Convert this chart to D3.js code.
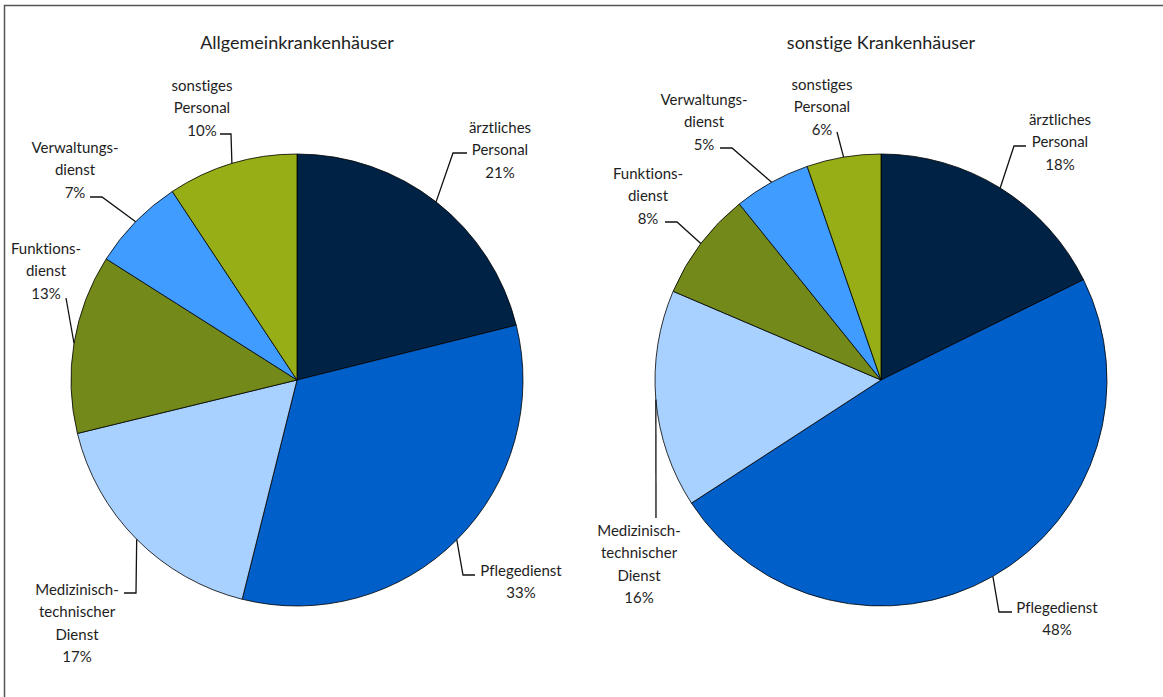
<!DOCTYPE html>
<html>
<head>
<meta charset="utf-8">
<script src="https://cdn.jsdelivr.net/npm/d3@7"></script>
<style>
  body { margin: 0; background: #fff; }
  svg text { font-family: Lato, "Open Sans", sans-serif; fill: #1e1e1e; font-variant-ligatures: none; font-feature-settings: "liga" 0; }
  .label { font-size: 15px; }
  .title { font-size: 18px; }
</style>
</head>
<body>
<svg id="chart" width="1163" height="697"></svg>
<script>
// ----------

const CATEGORIES = [
  ["ärztliches", "Personal"],
  ["Pflegedienst"],
  ["Medizinisch-", "technischer", "Dienst"],
  ["Funktions-", "dienst"],
  ["Verwaltungs-", "dienst"],
  ["sonstiges", "Personal"]
];

const TITLES = ["Allgemeinkrankenhäuser", "sonstige Krankenhäuser"];

// shares (in %)
const GENERAL_VALUES = [21.1, 32.8, 17.3, 12.8, 6.7, 9.3];
const OTHER_VALUES = [17.7, 48.2, 15.6, 7.8, 5.5, 5.3];

// percent labels as printed
const GENERAL_LABELS = ["21%", "33%", "17%", "13%", "7%", "10%"];
const OTHER_LABELS = ["18%", "48%", "16%", "8%", "5%", "6%"];

const COLORS = ["#002244", "#005fc9", "#a8d1ff", "#73891a", "#409cff", "#97ae16"];

const RADIUS = 226;
const LINE_HEIGHT = 22.4;

// label layout, relative to pie centre: text centre x, first line y, leader start, elbow x
const GENERAL_LAYOUT = [
  { tx: 203, ty: -253, sx: 170, sy: -227, ex: 156 },
  { tx: 224, ty: 190, sx: 178, sy: 195, ex: 166 },
  { tx: -220, ty: 209, sx: -173, sy: 213, ex: -161 },
  { tx: -251, ty: -132, sx: -231, sy: -82, ex: null },
  { tx: -222, ty: -233, sx: -207, sy: -183, ex: -195 },
  { tx: -95, ty: -295, sx: -77, sy: -246, ex: -66 }
];

const OTHER_LAYOUT = [
  { tx: 179, ty: -261, sx: 145, sy: -234, ex: 133 },
  { tx: 176, ty: 227, sx: 131, sy: 232, ex: 118 },
  { tx: -242, ty: 150, sx: -225, sy: 138, ex: null },
  { tx: -233, ty: -207, sx: -216, sy: -158, ex: -204 },
  { tx: -177, ty: -281, sx: -161, sy: -232, ex: -149 },
  { tx: -59, ty: -296, sx: -44, sy: -248, ex: null }
];

// ----------

function drawPie(svg, cx, cy, title, values, labels, layout) {
  const g = svg.append("g").attr("transform", "translate(" + cx + "," + cy + ")");

  g.append("text")
    .attr("class", "title")
    .attr("x", 0)
    .attr("y", -338)
    .attr("text-anchor", "middle")
    .attr("dominant-baseline", "central")
    .text(title);

  const pie = d3.pie().sort(null).value(function (d) {
    return d;
  });
  const arcs = pie(values);
  const arc = d3.arc().innerRadius(0).outerRadius(RADIUS);

  g.selectAll("path.slice")
    .data(arcs)
    .enter()
    .append("path")
    .attr("class", "slice")
    .attr("d", arc)
    .style("fill", function (d, i) {
      return COLORS[i];
    })
    .style("stroke", "#000")
    .style("stroke-width", 0.8);

  // leader lines: label -> elbow -> slice mid-angle on the rim
  g.selectAll("path.leader")
    .data(arcs)
    .enter()
    .append("path")
    .attr("class", "leader")
    .attr("d", function (d, i) {
      const l = layout[i];
      const mid = (d.startAngle + d.endAngle) / 2;
      const px = RADIUS * Math.sin(mid);
      const py = -RADIUS * Math.cos(mid);
      let path = d3.path();
      path.moveTo(l.sx, l.sy);
      if (l.ex !== null) path.lineTo(l.ex, l.sy);
      path.lineTo(px, py);
      return path.toString();
    })
    .style("fill", "none")
    .style("stroke", "#111")
    .style("stroke-width", 1.3);

  const text = g.selectAll("text.label")
    .data(arcs)
    .enter()
    .append("text")
    .attr("class", "label")
    .attr("text-anchor", "middle")
    .attr("dominant-baseline", "central");

  text.each(function (d, i) {
    const l = layout[i];
    const lines = CATEGORIES[i].concat([labels[i]]);
    d3.select(this)
      .selectAll("tspan")
      .data(lines)
      .enter()
      .append("tspan")
      .attr("x", l.tx)
      .attr("y", function (s, j) {
        return l.ty + j * LINE_HEIGHT;
      })
      .text(function (s) {
        return s;
      });
  });
}

const svg = d3.select("#chart");

// outer frame, runs off the right and bottom edge
svg.append("rect")
  .attr("x", 4.5)
  .attr("y", 5.5)
  .attr("width", 1200)
  .attr("height", 720)
  .style("fill", "none")
  .style("stroke", "#555")
  .style("stroke-width", 1.5);

drawPie(svg, 297, 380, TITLES[0], GENERAL_VALUES, GENERAL_LABELS, GENERAL_LAYOUT);
drawPie(svg, 881, 380, TITLES[1], OTHER_VALUES, OTHER_LABELS, OTHER_LAYOUT);
</script>
</body>
</html>
